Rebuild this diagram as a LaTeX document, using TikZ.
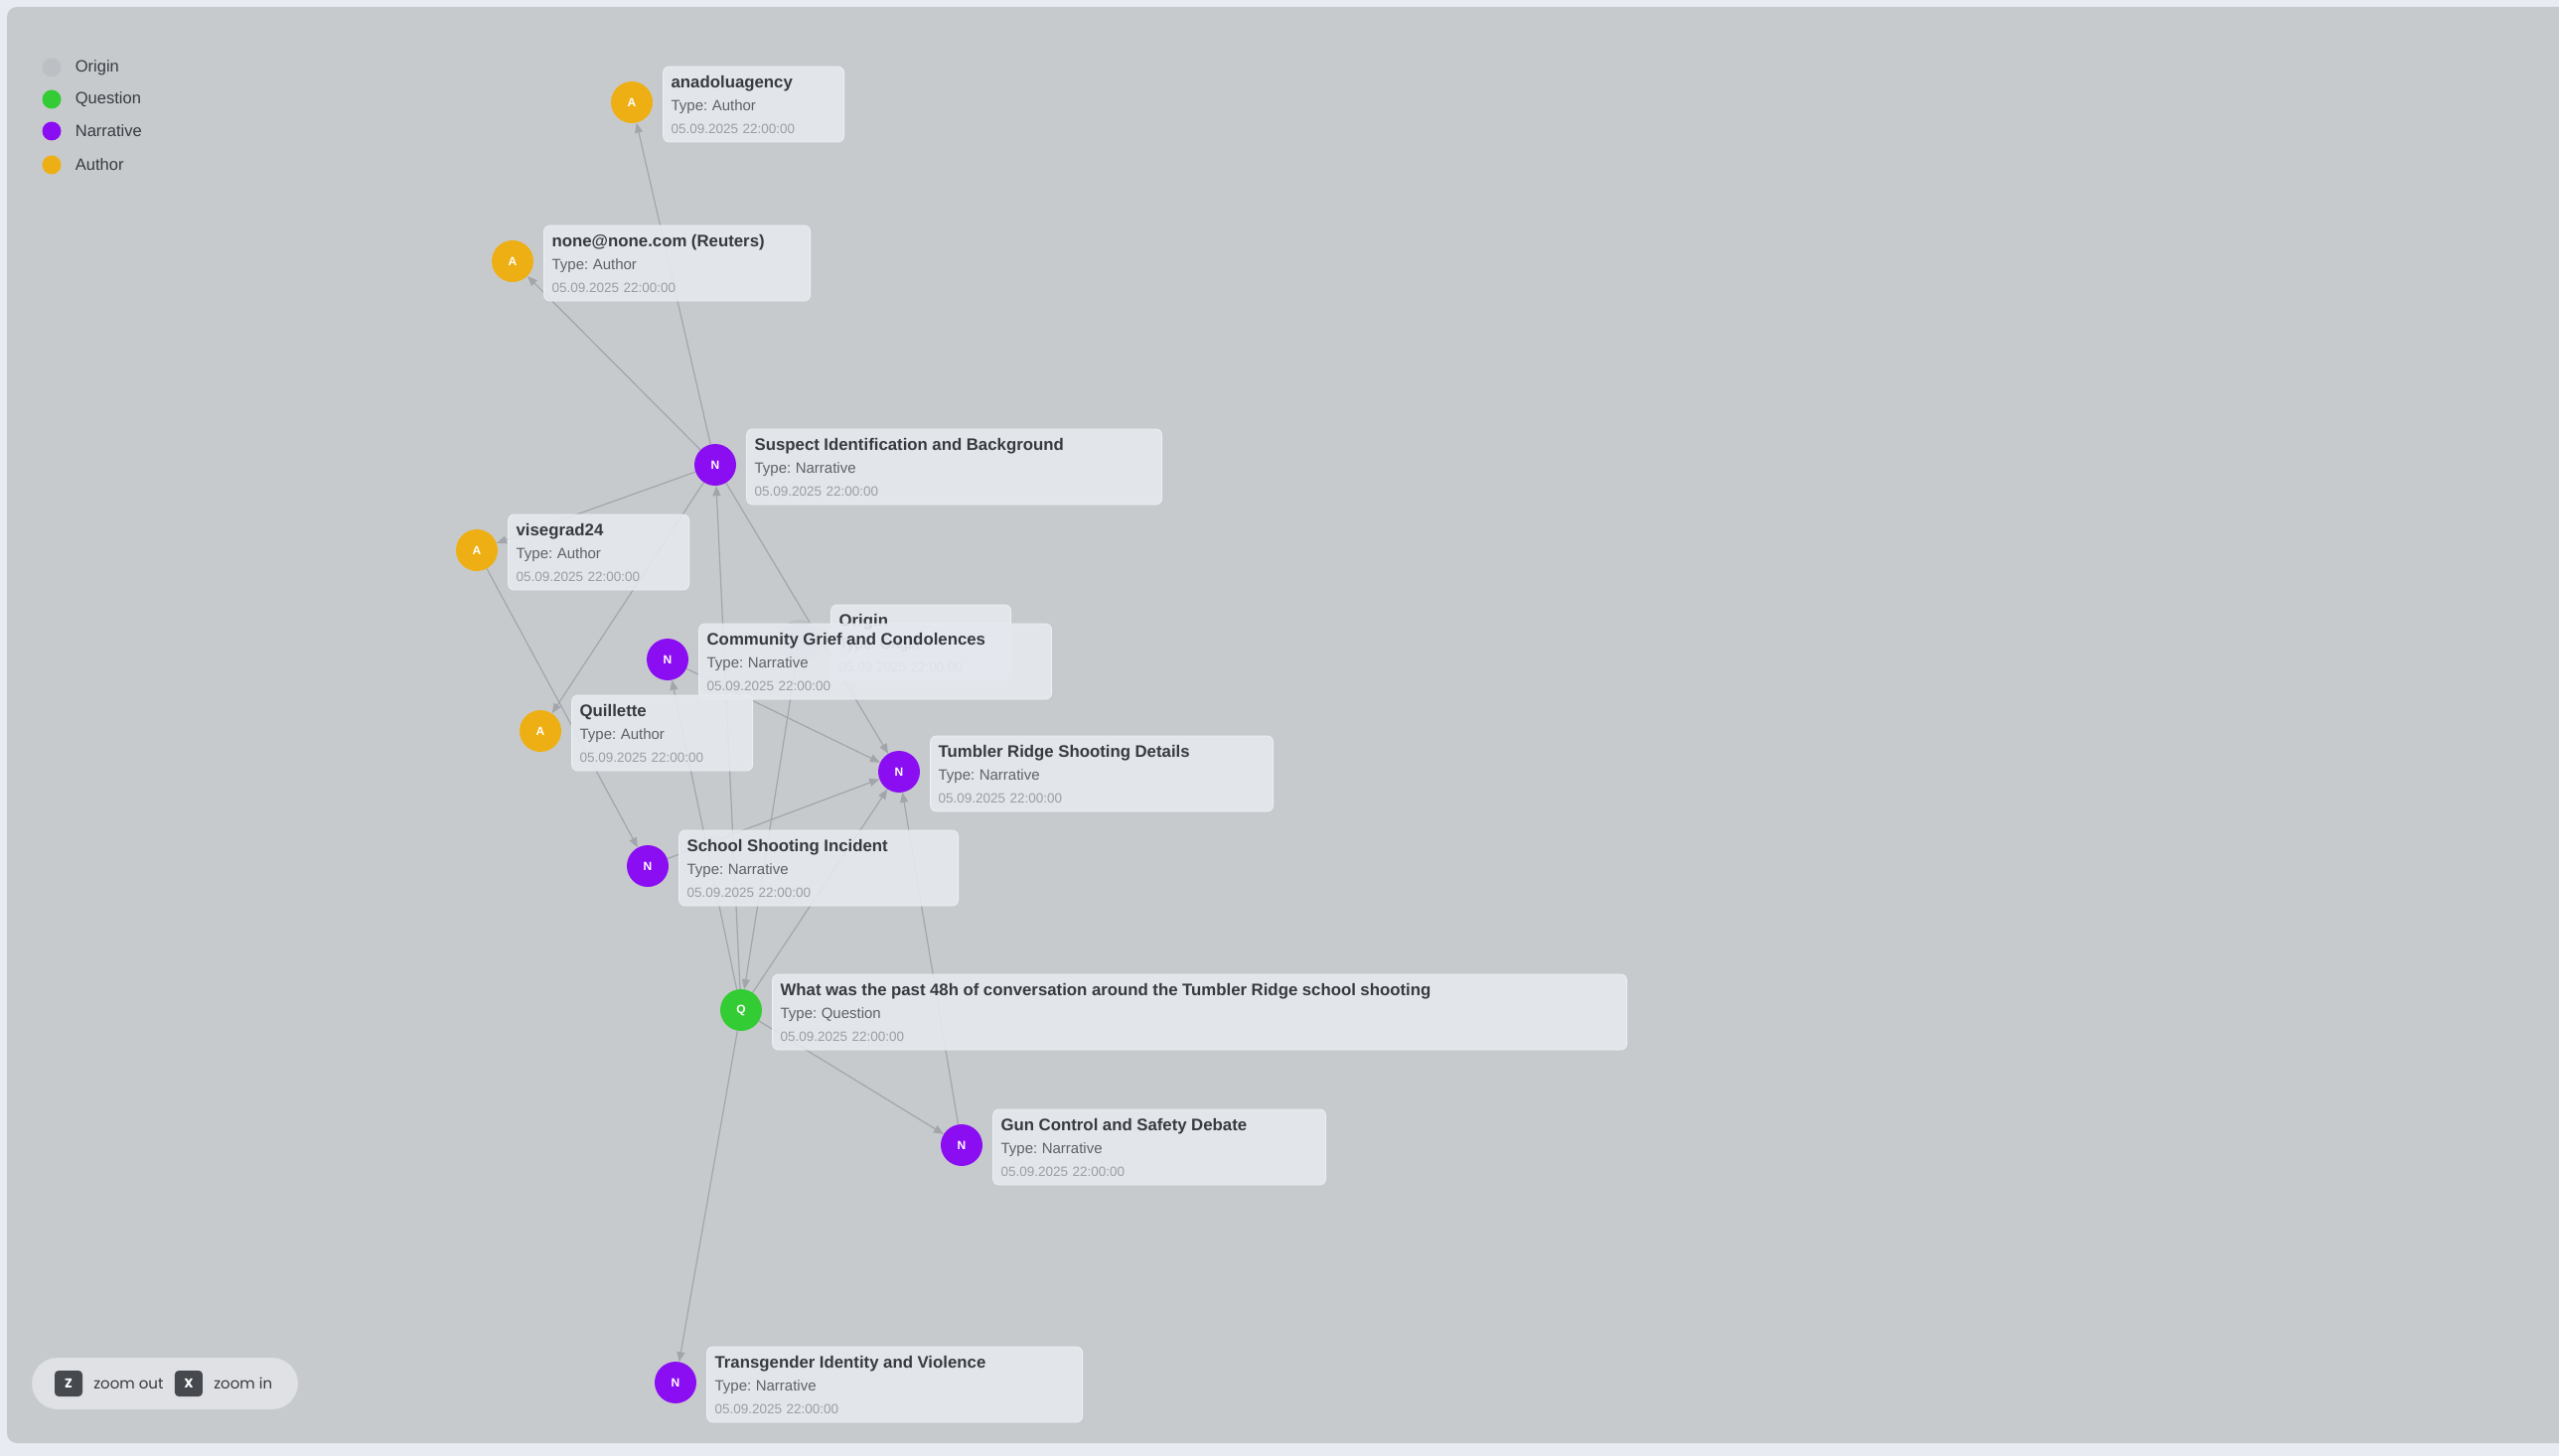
\documentclass[tikz,border=0pt]{standalone}
\usepackage{fontspec}
\setmainfont{Liberation Sans}
\newfontfamily\pillfont{Poppins}
\usetikzlibrary{positioning, arrows.meta}
\frenchspacing

\definecolor{pagebg}{RGB}{232,235,242}
\definecolor{panelbg}{RGB}{199,202,205}
\definecolor{cardfill}{RGB}{229,232,238}
\definecolor{cardline}{RGB}{236,238,243}
\definecolor{titletext}{RGB}{55,58,63}
\definecolor{typetext}{RGB}{95,98,103}
\definecolor{datetext}{RGB}{155,158,163}
\definecolor{authorcol}{RGB}{238,175,20}
\definecolor{narrcol}{RGB}{139,14,242}
\definecolor{questcol}{RGB}{52,204,52}
\definecolor{origcol}{RGB}{188,191,195}
\definecolor{linkcol}{RGB}{162,165,170}
\definecolor{pillfill}{RGB}{223,225,229}
\definecolor{pillline}{RGB}{210,213,217}
\definecolor{keyfill}{RGB}{70,73,78}

\pgfdeclarelayer{panel}
\pgfdeclarelayer{links}
\pgfsetlayers{panel,links,main}

\begin{document}
\begin{tikzpicture}[
    x=1pt, y=-1pt,
    font=\fontsize{13.5}{23}\selectfont,
    dot/.style={circle, minimum size=42pt, inner sep=0pt, text=white, font=\fontsize{12}{12}\selectfont\bfseries},
    author/.style={fill=authorcol},
    narr/.style={fill=narrcol},
    quest/.style={fill=questcol},
    orig/.style={fill=origcol},
    card/.style={draw=cardline, line width=0.8pt, fill=cardfill, fill opacity=0.9, text opacity=1,
        rounded corners=6pt, inner xsep=8pt, inner ysep=8pt, minimum height=76pt, align=left, text=titletext},
    relation/.style={draw=linkcol, line width=1.2pt, -{Triangle[length=10pt,width=8pt]}},
    legdot/.style={circle, minimum size=19pt, inner sep=0pt},
    legtext/.style={inner sep=0pt, text=titletext, font=\fontsize{16.5}{16.5}\selectfont},
    pill/.style={fill=pillfill, draw=pillline, rounded corners=26pt, minimum width=268pt, minimum height=52pt},
    keycap/.style={fill=keyfill, rounded corners=4pt, minimum width=28pt, minimum height=26pt, inner sep=0pt,
        text=white, font=\pillfont\fontsize{13}{13}\selectfont\bfseries},
    hint/.style={inner sep=0pt, text=titletext, font=\pillfont\fontsize{15}{15}\selectfont}
]

% Shared values
\def\stamp{05.09.2025 22:00:00}
\newcommand{\cardtitle}{\fontsize{16.8}{23}\selectfont\bfseries}
\newcommand{\cardtype}{\fontsize{15}{23}\selectfont\color{typetext}}

\newcommand{\drawEntity}[7]{
    % Colored dot with its letter
    \node[dot, #3] (#1) at #2 {#4};
    % Info card beside the dot
    \node[card, text width=#5, right=10pt of #1, yshift=-2pt] (#1card)
        {{\cardtitle #6}\\{\cardtype Type: #7}\\{\color{datetext}\stamp}};
}

\useasboundingbox (0,0) rectangle (2576,1466);

\begin{pgfonlayer}{panel}
    \fill[pagebg] (0,0) rectangle (2576,1466);
    \fill[panelbg, rounded corners=10pt] (7,7) rectangle (2620,1453);
\end{pgfonlayer}

% ==========================================
% Legend
\node[legdot, orig] (lgOrigin) at (52,68) {};
\node[legtext, right=14pt of lgOrigin] (lgOriginTxt) {Origin};
\node[legdot, quest] (lgQuest) at (52,100) {};
\node[legtext, right=14pt of lgQuest] (lgQuestTxt) {Question};
\node[legdot, narr] (lgNarr) at (52,132) {};
\node[legtext, right=14pt of lgNarr] (lgNarrTxt) {Narrative};
\node[legdot, author] (lgAuthor) at (52,166) {};
\node[legtext, right=14pt of lgAuthor] (lgAuthorTxt) {Author};

% ==========================================
% Entities (Origin first, it sits under Community)
\drawEntity{ori}{(805,645)}{orig}{}{165pt}{Origin}{Origin}
\drawEntity{ana}{(636,103)}{author}{A}{166pt}{anadoluagency}{Author}
\drawEntity{reu}{(516,263)}{author}{A}{252pt}{none@none.com (Reuters)}{Author}
\drawEntity{sus}{(720,468)}{narr}{N}{402pt}{Suspect Identification and Background}{Narrative}
\drawEntity{vis}{(480,554)}{author}{A}{166pt}{visegrad24}{Author}
\drawEntity{com}{(672,664)}{narr}{N}{339pt}{Community Grief and Condolences}{Narrative}
\drawEntity{qui}{(544,736)}{author}{A}{166pt}{Quillette}{Author}
\drawEntity{tum}{(905,777)}{narr}{N}{329pt}{Tumbler Ridge Shooting Details}{Narrative}
\drawEntity{sch}{(652,872)}{narr}{N}{265pt}{School Shooting Incident}{Narrative}
\drawEntity{que}{(746,1017)}{quest}{Q}{844pt}{What was the past 48h of conversation around the Tumbler Ridge school shooting}{Question}
\drawEntity{gun}{(968,1153)}{narr}{N}{319pt}{Gun Control and Safety Debate}{Narrative}
\drawEntity{tra}{(680,1392)}{narr}{N}{362pt}{Transgender Identity and Violence}{Narrative}

% ==========================================
% Links (under the cards)
\begin{pgfonlayer}{links}
    \draw[relation] (sus) -- (ana);
    \draw[relation] (sus) -- (reu);
    \draw[relation] (sus) -- (vis);
    \draw[relation] (sus) -- (qui);
    \draw[relation] (sus) -- (tum);
    \draw[relation] (vis) -- (sch);
    \draw[relation] (com) -- (tum);
    \draw[relation] (sch) -- (tum);
    \draw[relation] (que) -- (sus);
    \draw[relation] (que) -- (com);
    \draw[relation] (que) -- (tum);
    \draw[relation] (que) -- (gun);
    \draw[relation] (que) -- (tra);
    \draw[relation] (gun) -- (tum);
    \draw[relation] (ori) -- (que);
\end{pgfonlayer}

% ==========================================
% Zoom controls
\node[pill] (zoombar) at (166,1393) {};
\node[keycap] (zkey) at (69,1393) {Z};
\node[hint, right=11pt of zkey] (zout) {zoom out};
\node[keycap, right=11pt of zout] (xkey) {X};
\node[hint, right=11pt of xkey] (zin) {zoom in};

\end{tikzpicture}
\end{document}
